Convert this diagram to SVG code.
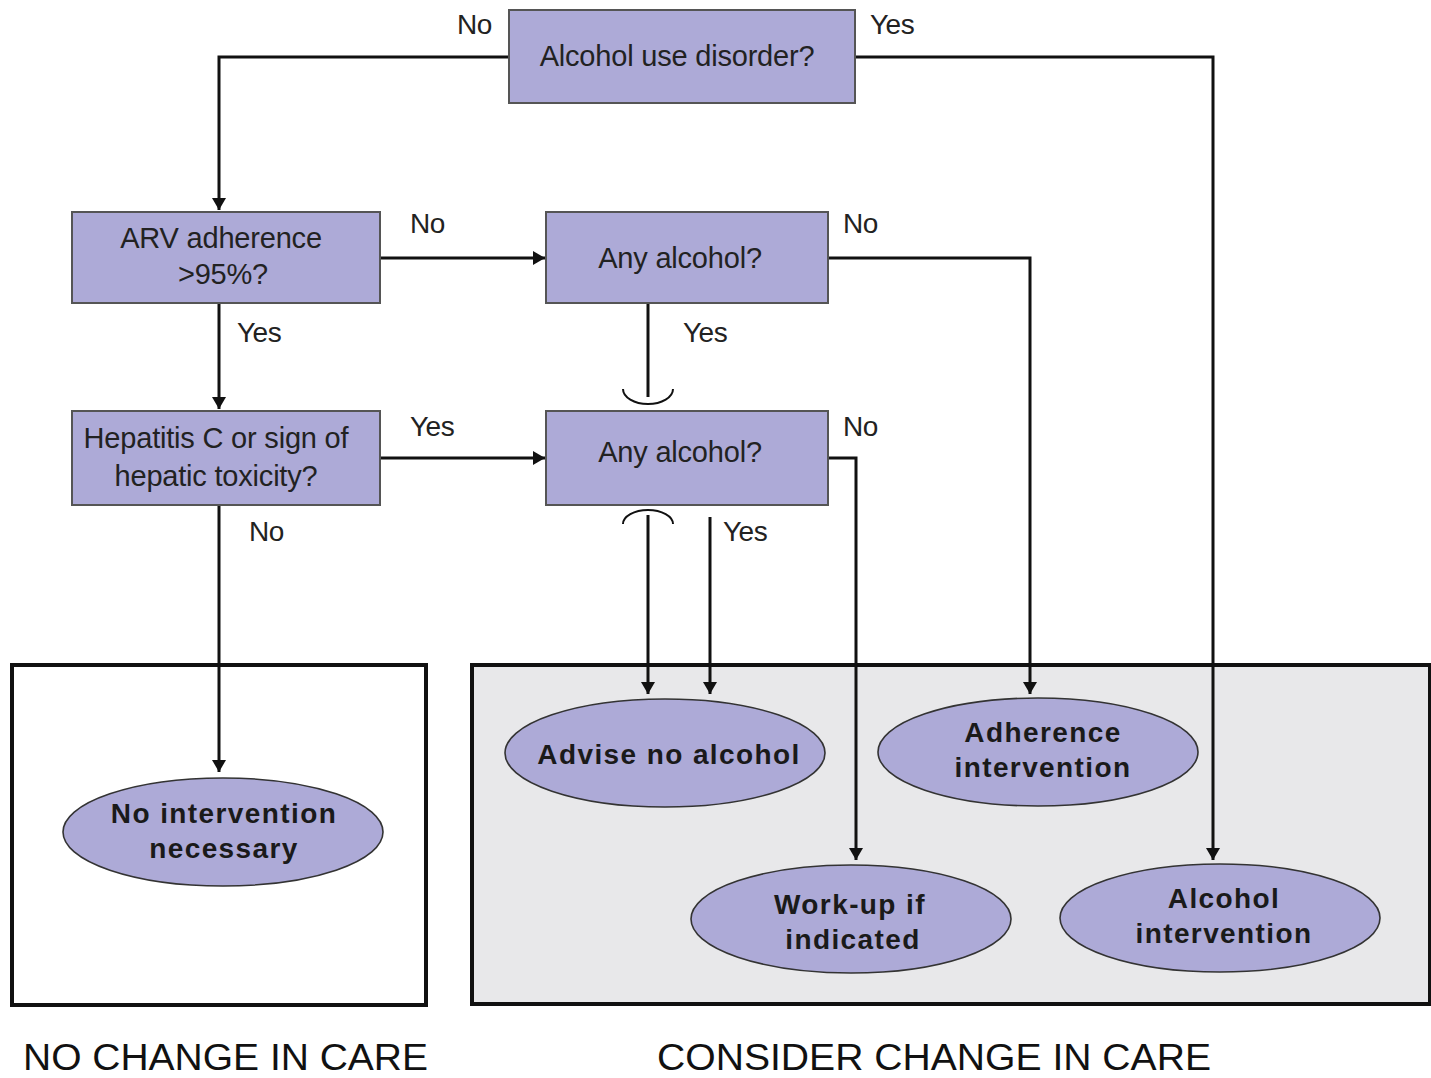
<svg xmlns="http://www.w3.org/2000/svg" width="1431" height="1078" viewBox="0 0 1431 1078">
<style>
.box{fill:#ADAAD7;stroke:#555;stroke-width:2}
.ell{fill:#ADAAD7;stroke:#333;stroke-width:1.6}
.bt{font-family:"Liberation Sans",Arial,sans-serif;font-size:29px;fill:#222;letter-spacing:-0.2px;text-anchor:middle}
.et{font-family:"Liberation Sans",Arial,sans-serif;font-size:28px;font-weight:bold;fill:#1a1a1a;letter-spacing:1.4px;text-anchor:middle}
.lb{font-family:"Liberation Sans",Arial,sans-serif;font-size:28px;fill:#222;letter-spacing:-0.5px}
.ft{font-family:"Liberation Sans",Arial,sans-serif;font-size:36px;fill:#111}
.ln{fill:none;stroke:#111;stroke-width:3}
.arc{fill:none;stroke:#111;stroke-width:2}
</style>
<defs>
<marker id="ah" markerUnits="userSpaceOnUse" markerWidth="12" markerHeight="14" viewBox="0 0 12 14" refX="12" refY="7" orient="auto">
<path d="M0,0 L12,7 L0,14 z" fill="#111"/>
</marker>
</defs>
<rect width="1431" height="1078" fill="#fff"/>

<g id="regions">
<rect x="12" y="665" width="414" height="340" fill="#fff" stroke="#111" stroke-width="4"/>
<rect x="472" y="665" width="958" height="339" fill="#E8E8EA" stroke="#111" stroke-width="4"/>
</g>

<g id="connectors">
<path class="ln" d="M509,57 H219 V210" marker-end="url(#ah)"/>
<path class="ln" d="M855,57 H1213 V860" marker-end="url(#ah)"/>
<path class="ln" d="M380,258 H545" marker-end="url(#ah)"/>
<path class="ln" d="M219,303 V409" marker-end="url(#ah)"/>
<path class="ln" d="M828,258 H1030 V694" marker-end="url(#ah)"/>
<path class="ln" d="M648,303 V397"/>
<path class="arc" d="M623,389 A25,15 0 0 0 673,389"/>
<path class="arc" d="M623,524 A25,14 0 0 1 673,524"/>
<path class="ln" d="M648,515 V694" marker-end="url(#ah)"/>
<path class="ln" d="M380,458 H545" marker-end="url(#ah)"/>
<path class="ln" d="M828,458 H856 V860" marker-end="url(#ah)"/>
<path class="ln" d="M710,517 V694" marker-end="url(#ah)"/>
<path class="ln" d="M219,505 V772" marker-end="url(#ah)"/>
</g>

<g id="labels">
<text class="lb" x="457" y="34">No</text>
<text class="lb" x="870" y="34">Yes</text>
<text class="lb" x="410" y="233">No</text>
<text class="lb" x="843" y="233">No</text>
<text class="lb" x="237" y="342">Yes</text>
<text class="lb" x="683" y="342">Yes</text>
<text class="lb" x="410" y="436">Yes</text>
<text class="lb" x="843" y="436">No</text>
<text class="lb" x="249" y="541">No</text>
<text class="lb" x="723" y="541">Yes</text>
</g>

<g id="n-alcohol-use">
<rect class="box" x="509" y="10" width="346" height="93"/>
<text class="bt" x="677" y="66">Alcohol use disorder?</text>
</g>
<g id="n-arv">
<rect class="box" x="72" y="212" width="308" height="91"/>
<text class="bt" x="221" y="248">ARV adherence</text>
<text class="bt" x="223" y="284">&gt;95%?</text>
</g>
<g id="n-any1">
<rect class="box" x="546" y="212" width="282" height="91"/>
<text class="bt" x="680" y="268">Any alcohol?</text>
</g>
<g id="n-hep">
<rect class="box" x="72" y="411" width="308" height="94"/>
<text class="bt" x="216" y="448">Hepatitis C or sign of</text>
<text class="bt" x="216" y="486">hepatic toxicity?</text>
</g>
<g id="n-any2">
<rect class="box" x="546" y="411" width="282" height="94"/>
<text class="bt" x="680" y="462">Any alcohol?</text>
</g>

<g id="n-no-intervention">
<ellipse class="ell" cx="223" cy="832" rx="160" ry="54"/>
<text class="et" x="224" y="823">No intervention</text>
<text class="et" x="224" y="858">necessary</text>
</g>
<g id="n-advise">
<ellipse class="ell" cx="665" cy="753" rx="160" ry="54"/>
<text class="et" x="669" y="764">Advise no alcohol</text>
</g>
<g id="n-adherence">
<ellipse class="ell" cx="1038" cy="752" rx="160" ry="54"/>
<text class="et" x="1043" y="742">Adherence</text>
<text class="et" x="1043" y="777">intervention</text>
</g>
<g id="n-workup">
<ellipse class="ell" cx="851" cy="919" rx="160" ry="54"/>
<text class="et" x="850" y="914">Work-up if</text>
<text class="et" x="853" y="949">indicated</text>
</g>
<g id="n-alcohol-int">
<ellipse class="ell" cx="1220" cy="918" rx="160" ry="54"/>
<text class="et" x="1224" y="908">Alcohol</text>
<text class="et" x="1224" y="943">intervention</text>
</g>

<g id="footers">
<text class="ft" x="23" y="1070" textLength="405" lengthAdjust="spacingAndGlyphs">NO CHANGE IN CARE</text>
<text class="ft" x="657" y="1070" textLength="554" lengthAdjust="spacingAndGlyphs">CONSIDER CHANGE IN CARE</text>
</g>
</svg>
